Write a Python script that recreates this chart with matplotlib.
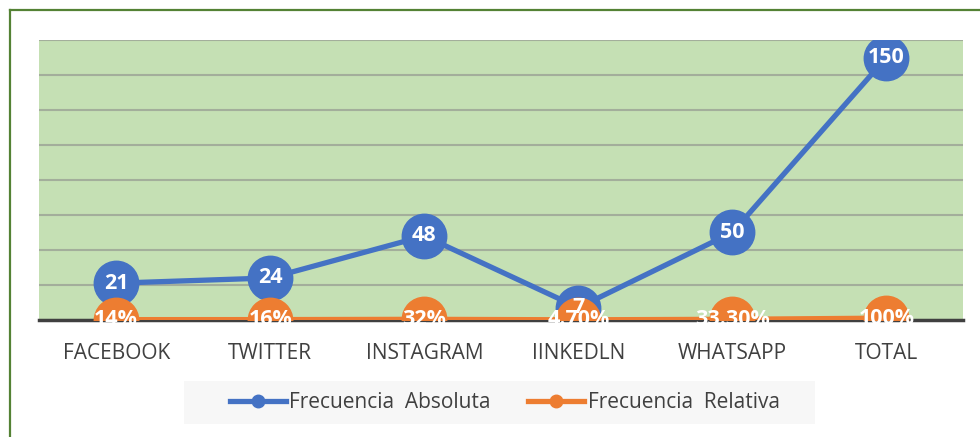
import matplotlib
matplotlib.use('Agg')
import matplotlib.pyplot as plt
from matplotlib.lines import Line2D
from matplotlib.patches import Rectangle

plt.rcParams['font.family'] = ['Open Sans', 'DejaVu Sans']

# datos
categorias = ['FACEBOOK', 'TWITTER', 'INSTAGRAM', 'IINKEDLN', 'WHATSAPP', 'TOTAL']
frec_absoluta = [21, 24, 48, 7, 50, 150]
frec_relativa = [0.14, 0.16, 0.32, 0.047, 0.333, 1.00]
etiquetas_relativa = ['14%', '16%', '32%', '4.70%', '33.30%', '100%']

azul = '#4472C4'
naranja = '#ED7D31'

fig = plt.figure(figsize=(9.8, 4.37), dpi=100)
ax = fig.add_axes([0.040, 0.268, 0.943, 0.640])
ax.set_facecolor('#C5E0B4')

x = list(range(len(categorias)))
ax.plot(x, frec_absoluta, color=azul, lw=3.8, marker='o', ms=32,
        label='Frecuencia  Absoluta', zorder=3, solid_capstyle='round')
ax.plot(x, frec_relativa, color=naranja, lw=3.8, marker='o', ms=32,
        label='Frecuencia  Relativa', zorder=4, solid_capstyle='round')

for xi, v in zip(x, frec_absoluta):
    ax.text(xi, v, str(v), color='white', fontsize=15.5, fontweight='bold',
            ha='center', va='center', zorder=5)
for xi, v, t in zip(x, frec_relativa, etiquetas_relativa):
    ax.text(xi, v, t, color='white', fontsize=15.5, fontweight='bold',
            ha='center', va='center', zorder=6)

ax.set_xlim(-0.5, len(categorias) - 0.5)
ax.set_ylim(0, 160)
ax.set_yticks(range(0, 161, 20))
ax.yaxis.grid(True, color='#A3AE9B', lw=1.5)
ax.set_axisbelow(True)
ax.tick_params(axis='y', left=False, labelleft=False)
ax.tick_params(axis='x', bottom=False, labelsize=15, labelcolor='#404040', pad=13)
ax.set_xticks(x)
ax.set_xticklabels(categorias)
for s in ['top', 'right', 'left']:
    ax.spines[s].set_visible(False)
ax.spines['bottom'].set_color('#404040')
ax.spines['bottom'].set_linewidth(2.5)

# fondo de la leyenda
fig.add_artist(Rectangle((184 / 980, 1 - 424 / 437), 631 / 980, 43 / 437,
                         transform=fig.transFigure, facecolor='#F7F7F7',
                         edgecolor='none', zorder=0))

# leyenda
handles = [Line2D([0], [0], color=azul, lw=3.8, marker='o', ms=9),
           Line2D([0], [0], color=naranja, lw=3.8, marker='o', ms=9)]
leg = fig.legend(handles, ['Frecuencia  Absoluta', 'Frecuencia  Relativa'],
                 loc='center', bbox_to_anchor=(0.515, 1 - 402.5 / 437), ncol=2,
                 frameon=False, fontsize=15, handlelength=2.7,
                 handletextpad=0.15, columnspacing=1.8, borderpad=0,
                 borderaxespad=0)
for t in leg.get_texts():
    t.set_color('#404040')

# borde verde
fig.add_artist(Line2D([10 / 980, 10 / 980], [0, 1 - 10 / 437],
                      color='#548235', lw=1.6, transform=fig.transFigure))
fig.add_artist(Line2D([10 / 980, 1], [1 - 10 / 437, 1 - 10 / 437],
                      color='#548235', lw=1.6, transform=fig.transFigure))

plt.savefig('out.png', dpi=100)
plt.close()
